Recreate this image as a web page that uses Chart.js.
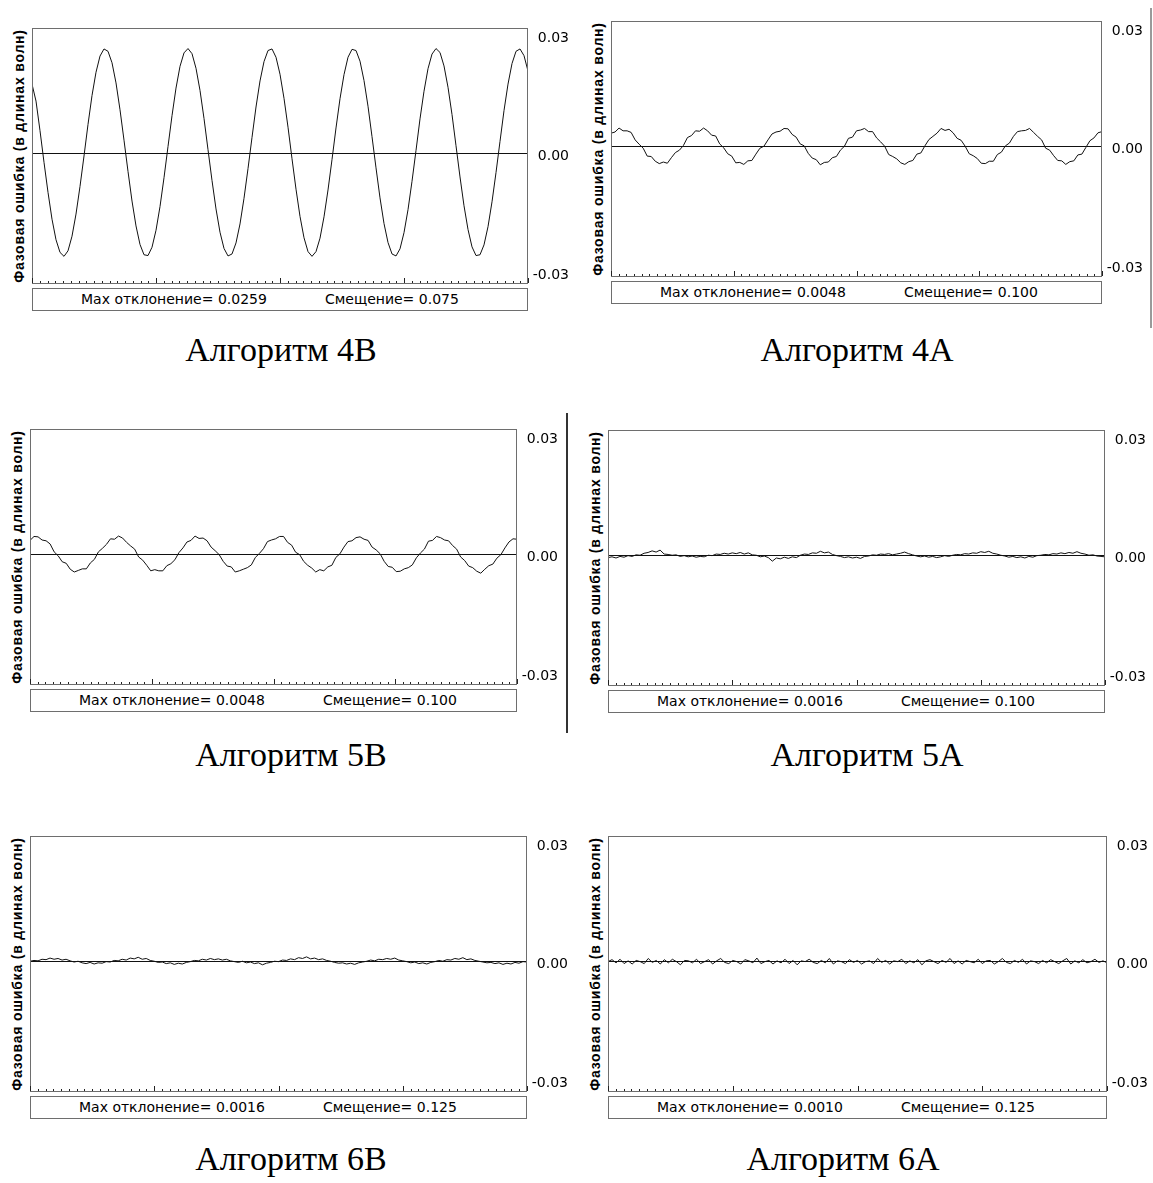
<!DOCTYPE html>
<html lang="ru">
<head>
<meta charset="utf-8">
<title>Фазовая ошибка</title>
<script src="https://cdn.jsdelivr.net/npm/chart.js@4.4.1/dist/chart.umd.min.js"></script>
<style>
  html, body { margin: 0; padding: 0; background: #fff; }
  #page { position: relative; width: 1153px; height: 1183px; overflow: hidden; }
  #page canvas { position: absolute; }
  .ytitle { position: absolute; transform: translate(-50%, -50%) rotate(-90deg); white-space: nowrap;
            font: bold 14px "Liberation Sans", Arial, sans-serif; letter-spacing: 0.8px; color: #000; }
  .footer { position: absolute; box-sizing: border-box; height: 23px; border: 1px solid #6e6e6e; background: #fff;
            font: 14px "DejaVu Sans", sans-serif; color: #000; }
  .footer span { position: absolute; top: 2px; white-space: nowrap; }
  .caption { position: absolute; transform: translateX(-50%); white-space: nowrap;
             font: 34px "Liberation Serif", "Times New Roman", serif; color: #000; }
  .vline { position: absolute; width: 2px; }
</style>
</head>
<body>
<div id="page"></div>
<script>
// y axis: only three labelled ticks
const tickValues = [-0.03, 0, 0.03];
const tickLabels = ['-0.03', '0.00', '0.03'];
const yMin = -0.0330;
const yMax = 0.0318;

const algorithms = ['Алгоритм 4В', 'Алгоритм 4А', 'Алгоритм 5В', 'Алгоритм 5А', 'Алгоритм 6В', 'Алгоритм 6А'];
const maxDeviation = ['0.0259', '0.0048', '0.0048', '0.0016', '0.0016', '0.0010'];
const shifts = ['0.075', '0.100', '0.100', '0.100', '0.125', '0.125'];
const yTitle = 'Фазовая ошибка (в длинах волн)';

// phase error traces (wavelengths)
const err4B = [.0176,.0133,.0058,-.0022,-.0098,-.0166,-.0218,-.0250,-.0260,-.0246,
  -.0209,-.0153,-.0083,-.0006,.0074,.0147,.0206,.0247,.0265,.0259,
  .0230,.0179,.0111,.0034,-.0045,-.0120,-.0183,-.0230,-.0256,-.0258,
  -.0237,-.0194,-.0134,-.0061,.0018,.0096,.0166,.0221,.0255,.0266,
  .0253,.0216,.0160,.0089,.0010,-.0068,-.0140,-.0199,-.0240,-.0259,
  -.0254,-.0226,-.0178,-.0113,-.0038,.0041,.0118,.0184,.0233,.0261,
  .0265,.0244,.0201,.0140,.0067,-.0013,-.0090,-.0159,-.0213,-.0248,
  -.0260,-.0248,-.0214,-.0160,-.0092,-.0015,.0065,.0139,.0200,.0244,
  .0264,.0261,.0234,.0185,.0120,.0043,-.0036,-.0112,-.0177,-.0225,
  -.0254,-.0259,-.0241,-.0200,-.0142,-.0070,.0008,.0088,.0158,.0215,
  .0252,.0266,.0256,.0222,.0168,.0099,.0020,-.0059,-.0132,-.0192,
  -.0236,-.0258,-.0256,-.0231,-.0185,-.0122,-.0048,.0031,.0109,.0176,
  .0228,.0259,.0265,.0248,.0209];

const err4A = [.0034,.0037,.0047,.0040,.0040,.0036,.0017,.0006,-.0004,-.0024,
  -.0025,-.0037,-.0043,-.0039,-.0042,-.0028,-.0015,-.0009,.0003,.0023,
  .0028,.0040,.0039,.0047,.0040,.0029,.0027,.0007,-.0003,-.0018,
  -.0024,-.0041,-.0040,-.0045,-.0036,-.0035,-.0019,-.0004,.0001,.0017,
  .0032,.0037,.0039,.0046,.0045,.0031,.0024,.0007,.0002,-.0017,
  -.0029,-.0033,-.0046,-.0040,-.0039,-.0028,-.0025,-.0009,.0001,.0021,
  .0024,.0040,.0042,.0046,.0038,.0038,.0022,.0012,.0001,-.0020,
  -.0025,-.0031,-.0041,-.0045,-.0038,-.0035,-.0019,-.0016,.0002,.0018,
  .0026,.0034,.0046,.0041,.0044,.0035,.0021,.0016,.0001,-.0018,
  -.0023,-.0030,-.0042,-.0043,-.0037,-.0037,-.0020,-.0014,.0002,.0009,
  .0026,.0038,.0040,.0041,.0046,.0036,.0026,.0017,-.0004,-.0009,
  -.0023,-.0035,-.0036,-.0045,-.0038,-.0036,-.0021,-.0019,-.0002,.0015,
  .0022,.0035,.0038];

const err5B = [.0036,.0046,.0045,.0037,.0035,.0027,.0007,-.0003,-.0018,-.0022,
  -.0037,-.0044,-.0040,-.0036,-.0036,-.0021,-.0012,.0007,.0016,.0026,
  .0040,.0039,.0047,.0042,.0031,.0022,.0014,-.0006,-.0014,-.0027,
  -.0041,-.0038,-.0041,-.0041,-.0028,-.0023,-.0013,.0005,.0017,.0032,
  .0036,.0047,.0041,.0042,.0035,.0019,.0010,.0000,-.0017,-.0029,
  -.0031,-.0044,-.0041,-.0037,-.0033,-.0026,-.0007,.0003,.0015,.0033,
  .0037,.0040,.0046,.0046,.0031,.0024,.0006,.0000,-.0017,-.0027,
  -.0034,-.0044,-.0038,-.0041,-.0031,-.0027,-.0007,.0002,.0019,.0033,
  .0035,.0043,.0045,.0039,.0036,.0019,.0012,.0002,-.0017,-.0030,
  -.0032,-.0043,-.0042,-.0036,-.0033,-.0026,-.0008,.0004,.0014,.0034,
  .0036,.0046,.0043,.0037,.0035,.0023,.0014,-.0006,-.0015,-.0029,
  -.0033,-.0042,-.0047,-.0037,-.0028,-.0024,-.0009,.0000,.0017,.0032,
  .0040,.0039];

const err5A = [-.0005,-.0003,-.0006,-.0002,-.0004,.0000,-.0002,.0002,.0001,.0006,
  .0008,.0012,.0009,.0014,.0004,.0003,.0001,.0002,-.0002,.0000,
  -.0003,-.0001,-.0004,-.0002,-.0003,.0001,.0000,.0004,.0003,.0006,
  .0004,.0007,.0005,.0008,.0004,.0007,.0002,.0001,-.0003,-.0001,
  -.0005,-.0014,-.0006,-.0008,-.0004,-.0007,-.0003,-.0005,.0001,.0004,
  .0003,.0007,.0006,.0011,.0007,.0009,.0003,.0000,-.0002,-.0005,
  -.0003,-.0006,-.0004,-.0007,-.0002,-.0001,.0002,.0001,.0004,.0003,
  .0005,.0002,.0004,.0006,.0009,.0005,.0002,-.0001,-.0003,-.0001,
  -.0004,-.0002,-.0005,-.0003,.0000,-.0002,.0001,.0003,.0002,.0005,
  .0004,.0007,.0006,.0010,.0008,.0011,.0006,.0004,.0001,-.0001,
  -.0004,-.0002,-.0005,-.0003,-.0006,-.0002,-.0004,.0000,.0001,.0003,
  .0002,.0005,.0004,.0007,.0005,.0008,.0006,.0010,.0006,.0004,
  .0001,.0002,-.0001,-.0002,-.0003];

const err6B = [.0001,.0003,.0002,.0006,.0005,.0009,.0006,.0008,.0004,.0006,
  .0002,-.0001,.0001,-.0003,-.0005,-.0002,-.0006,-.0003,-.0004,.0000,
  -.0001,.0003,.0002,.0006,.0004,.0009,.0007,.0011,.0006,.0008,
  .0003,.0001,-.0002,-.0001,-.0005,-.0003,-.0007,-.0004,-.0006,-.0002,
  .0000,.0003,.0002,.0006,.0004,.0008,.0005,.0007,.0004,.0006,
  .0002,.0000,-.0002,.0001,-.0003,-.0001,-.0005,-.0003,-.0008,-.0004,
  -.0002,.0001,.0000,.0004,.0003,.0007,.0005,.0010,.0008,.0012,
  .0007,.0009,.0005,.0007,.0003,.0001,-.0002,-.0004,-.0003,-.0006,
  -.0004,-.0007,-.0003,-.0001,.0001,.0004,.0002,.0006,.0005,.0008,
  .0006,.0009,.0004,.0002,.0000,-.0003,-.0001,-.0005,-.0003,-.0006,
  -.0002,.0000,.0003,.0001,.0005,.0004,.0008,.0006,.0010,.0005,
  .0007,.0003,.0001,-.0001,-.0003,-.0002,-.0005,-.0003,-.0007,-.0004,
  -.0006,-.0002,-.0004,.0000,-.0001];

const err6A = [.0000,.0005,-.0003,.0006,-.0005,.0002,-.0006,.0003,.0000,-.0005,
  .0008,-.0002,.0003,-.0006,.0005,-.0003,.0006,.0000,-.0008,.0003,
  .0002,-.0003,.0006,-.0005,.0000,.0005,-.0006,.0002,.0008,-.0002,
  -.0005,.0003,.0000,-.0006,.0005,.0002,-.0003,.0009,-.0005,.0000,
  .0003,-.0006,.0002,-.0003,.0006,-.0005,.0003,-.0008,.0002,.0000,
  .0006,-.0002,-.0005,.0003,-.0003,.0008,-.0006,.0002,.0000,-.0005,
  .0005,-.0002,.0003,-.0006,.0000,.0002,-.0005,.0008,-.0002,.0003,
  -.0006,.0002,.0000,.0006,-.0005,.0002,-.0003,.0005,-.0008,.0002,
  .0005,.0000,-.0005,.0003,-.0002,.0008,-.0005,.0002,-.0006,.0003,
  .0000,-.0003,.0006,-.0005,.0002,.0003,-.0006,.0000,.0008,-.0002,
  -.0005,.0003,-.0002,.0006,-.0006,.0002,.0000,-.0005,.0003,-.0003,
  .0005,.0000,-.0005,.0002,.0008,-.0006,.0002,-.0003,.0005,-.0003,
  .0000,.0006,-.0002,.0002,-.0003];

const series = [err4B, err4A, err5B, err5A, err6B, err6A];

// where each panel sits on the page: plot box left/top/width, caption centre + top
const panels = [
  { left: 32,  top: 28,  width: 496, capX: 281, capTop: 331 },
  { left: 611, top: 21,  width: 491, capX: 857, capTop: 331 },
  { left: 30,  top: 429, width: 487, capX: 291, capTop: 736 },
  { left: 608, top: 430, width: 497, capX: 867, capTop: 736 },
  { left: 30,  top: 836, width: 497, capX: 291, capTop: 1140 },
  { left: 608, top: 836, width: 499, capX: 843, capTop: 1140 }
];
const plotHeight = 256;
const labelArea = 41;
const pad = 10;

// grey frame round the plot + little tick marks along its bottom edge
const frameAndTicks = {
  id: 'frameAndTicks',
  afterDatasetsDraw(chart) {
    const { ctx, chartArea: a, scales: { x } } = chart;
    const n = chart.data.datasets[0].data.length - 1;
    ctx.save();
    ctx.strokeStyle = '#6e6e6e';
    ctx.lineWidth = 1;
    ctx.strokeRect(a.left + 0.5, a.top + 0.5, a.width - 1, a.height - 1);
    ctx.strokeStyle = '#222';
    ctx.beginPath();
    for (let k = 0; k <= 64; k++) {
      const px = Math.round(x.getPixelForValue(k * n / 64)) + 0.5;
      const len = k % 16 === 0 ? 5 : 2;
      ctx.moveTo(px, a.bottom - 1);
      ctx.lineTo(px, a.bottom - 1 - len);
    }
    ctx.stroke();
    ctx.restore();
  }
};

const page = document.getElementById('page');

function addDiv(cls, css, text) {
  const d = document.createElement('div');
  d.className = cls;
  Object.assign(d.style, css);
  if (text) d.textContent = text;
  page.appendChild(d);
  return d;
}

panels.forEach((p, idx) => {
  const values = series[idx];

  const canvas = document.createElement('canvas');
  canvas.width = p.width + labelArea;
  canvas.height = plotHeight + pad * 2;
  canvas.style.left = p.left + 'px';
  canvas.style.top = (p.top - pad) + 'px';
  page.appendChild(canvas);

  new Chart(canvas, {
    type: 'line',
    data: {
      datasets: [{
        data: values.map((v, i) => ({ x: i, y: v })),
        borderColor: '#111',
        borderWidth: 1,
        pointRadius: 0,
        tension: 0,
        fill: false
      }]
    },
    options: {
      responsive: false,
      animation: false,
      events: [],
      layout: { padding: { top: pad, bottom: pad, left: 0, right: 0 }, autoPadding: false },
      plugins: { legend: { display: false }, tooltip: { enabled: false } },
      scales: {
        x: { type: 'linear', display: false, min: 0, max: values.length - 1 },
        y: {
          position: 'right',
          min: yMin,
          max: yMax,
          afterBuildTicks: s => { s.ticks = tickValues.map(v => ({ value: v })); },
          afterFit: s => { s.width = labelArea; s.paddingTop = 0; s.paddingBottom = 0; },
          border: { display: false },
          grid: {
            drawTicks: false,
            color: c => (c.tick && c.tick.value === 0) ? '#111' : 'rgba(0,0,0,0)'
          },
          ticks: {
            crossAlign: 'far',
            padding: 0,
            labelOffset: 3,
            color: '#000',
            font: { family: 'DejaVu Sans', size: 14 },
            callback: (v, i) => tickLabels[i]
          }
        }
      }
    },
    plugins: [frameAndTicks]
  });

  addDiv('ytitle', { left: (p.left - 13) + 'px', top: (p.top + plotHeight / 2) + 'px' }, yTitle);

  const foot = addDiv('footer', { left: p.left + 'px', top: (p.top + plotHeight + 4) + 'px', width: p.width + 'px' });
  const s1 = document.createElement('span');
  s1.style.left = '48px';
  s1.textContent = 'Max отклонение= ' + maxDeviation[idx];
  const s2 = document.createElement('span');
  s2.style.left = '292px';
  s2.textContent = 'Смещение= ' + shifts[idx];
  foot.appendChild(s1);
  foot.appendChild(s2);

  addDiv('caption', { left: p.capX + 'px', top: p.capTop + 'px' }, algorithms[idx]);
});

// separator strokes that appear beside two of the panels
addDiv('vline', { left: '1150px', top: '8px', height: '320px', background: '#9a9a9a' });
addDiv('vline', { left: '566px', top: '413px', height: '320px', background: '#333' });
</script>
</body>
</html>
